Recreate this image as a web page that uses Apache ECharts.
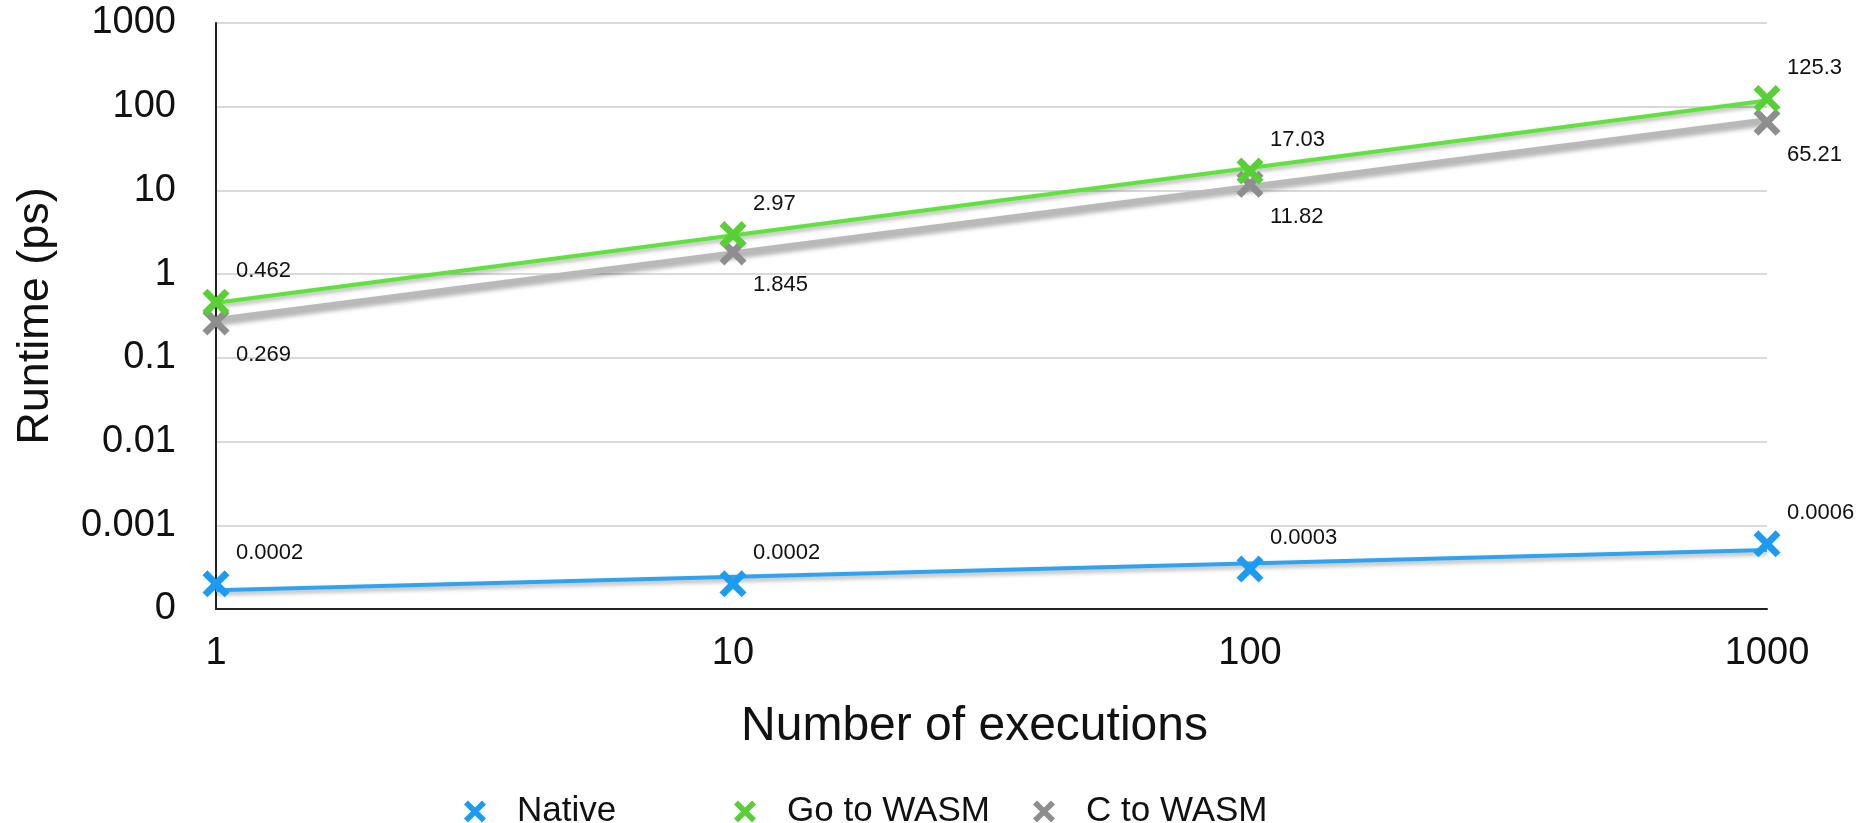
<!DOCTYPE html>
<html>
<head>
<meta charset="utf-8">
<title>Runtime vs number of executions</title>
<script src="https://cdn.jsdelivr.net/npm/echarts@6/dist/echarts.min.js"></script>
<style>
  html, body { margin: 0; padding: 0; background: #ffffff; }
  #chart { width: 1862px; height: 823px; }
</style>
</head>
<body>
<div id="chart"></div>
<script>
// Measured runtimes (ps) for each number of executions
const executions = [1, 10, 100, 1000];
const nativeRuntime = [0.0002, 0.0002, 0.0003, 0.0006];
const goWasmRuntime = [0.462, 2.97, 17.03, 125.3];
const cWasmRuntime = [0.269, 1.845, 11.82, 65.21];

// Axis tick labels (log scale, one per decade)
const xTickLabels = ['1', '10', '100', '1000'];
const yTickLabels = ['0', '0.001', '0.01', '0.1', '1', '10', '100', '1000'];

const seriesNames = ['Native', 'Go to WASM', 'C to WASM'];

const FONT = '"Liberation Sans", Arial, Helvetica, sans-serif';
const COLORS = {
  native: { mark: '#1c9bf0', line: '#2ea3f2' },
  go: { mark: '#58cf36', line: '#5fe23c' },
  c: { mark: '#8e8e8e', line: '#b9b9b9' }
};
// Thick "X" marker
const X_SYMBOL = 'path://M0,18 L18,0 L50,32 L82,0 L100,18 L68,50 L100,82 L82,100 L50,68 L18,100 L0,82 L32,50 Z';

// Power-law trendline: least squares fit in log10-log10 space
function powerTrend(xs, ys) {
  const lx = xs.map(Math.log10), ly = ys.map(Math.log10);
  const n = lx.length;
  const mx = lx.reduce((a, b) => a + b, 0) / n;
  const my = ly.reduce((a, b) => a + b, 0) / n;
  let sxy = 0, sxx = 0;
  for (let i = 0; i < n; i++) {
    sxy += (lx[i] - mx) * (ly[i] - my);
    sxx += (lx[i] - mx) * (lx[i] - mx);
  }
  const slope = sxy / sxx;
  const icpt = my - slope * mx;
  const x0 = xs[0], x1 = xs[n - 1];
  return [
    [x0, Math.pow(10, icpt + slope * Math.log10(x0))],
    [x1, Math.pow(10, icpt + slope * Math.log10(x1))]
  ];
}

function pairs(ys) { return executions.map((x, i) => [x, ys[i]]); }

function trendSeries(name, ys, color, width, z) {
  return {
    name: name,
    type: 'line',
    data: powerTrend(executions, ys),
    symbol: 'none',
    silent: true,
    z: z,
    lineStyle: {
      color: color, width: width,
      shadowColor: 'rgba(0,0,0,0.30)', shadowBlur: 4, shadowOffsetY: 3
    }
  };
}

function markSeries(name, ys, color, dy, z) {
  return {
    name: name,
    type: 'scatter',
    data: pairs(ys),
    symbol: X_SYMBOL,
    symbolSize: 27,
    z: z,
    itemStyle: { color: color, opacity: 1 },
    label: {
      show: true,
      position: 'inside',
      align: 'left',
      verticalAlign: 'middle',
      offset: [20, dy],
      color: '#111',
      fontFamily: FONT,
      fontSize: 22,
      formatter: p => String(p.value[1])
    }
  };
}

function legendAt(name, left) {
  return {
    data: [{ name: name, icon: X_SYMBOL }],
    left: left,
    top: 789,
    itemWidth: 22,
    itemHeight: 23,
    selectedMode: false,
    textStyle: { fontFamily: FONT, fontSize: 35, color: '#111', padding: [0, 0, 0, 26] }
  };
}

const chart = echarts.init(document.getElementById('chart'), null, { renderer: 'canvas' });
chart.setOption({
  backgroundColor: '#ffffff',
  animation: false,
  grid: { left: 216, right: 95, top: 23, bottom: 214, containLabel: false },
  legend: [
    legendAt(seriesNames[0], 459),
    legendAt(seriesNames[1], 729),
    legendAt(seriesNames[2], 1028)
  ],
  xAxis: {
    type: 'log', logBase: 10, min: 1, max: 1000,
    name: 'Number of executions',
    nameLocation: 'middle',
    nameGap: 94,
    nameTextStyle: { fontFamily: FONT, fontSize: 48, color: '#111', padding: [0, 34, 0, 0] },
    axisLine: { lineStyle: { color: '#222', width: 2 } },
    axisTick: { show: false },
    splitLine: { show: false },
    minorTick: { show: false },
    axisLabel: {
      fontFamily: FONT, fontSize: 38, color: '#111', margin: 26,
      formatter: (v, i) => xTickLabels[i]
    }
  },
  yAxis: {
    type: 'log', logBase: 10, min: 0.0001, max: 1000,
    name: 'Runtime (ps)',
    nameLocation: 'middle',
    nameGap: 158,
    nameRotate: 90,
    nameTextStyle: { fontFamily: FONT, fontSize: 45, color: '#111' },
    axisLine: { show: true, lineStyle: { color: '#222', width: 2 } },
    axisTick: { show: false },
    splitLine: { show: true, lineStyle: { color: '#d9d9d9', width: 2 } },
    axisLabel: {
      fontFamily: FONT, fontSize: 38, color: '#111', margin: 40,
      formatter: (v, i) => yTickLabels[i]
    }
  },
  series: [
    trendSeries('Native trend', nativeRuntime, COLORS.native.line, 4, 2),
    trendSeries('C to WASM trend', cWasmRuntime, COLORS.c.line, 6, 2),
    trendSeries('Go to WASM trend', goWasmRuntime, COLORS.go.line, 4, 3),
    markSeries(seriesNames[0], nativeRuntime, COLORS.native.mark, -31, 4),
    markSeries(seriesNames[2], cWasmRuntime, COLORS.c.mark, 33, 4),
    markSeries(seriesNames[1], goWasmRuntime, COLORS.go.mark, -31, 5)
  ]
});
</script>
</body>
</html>
